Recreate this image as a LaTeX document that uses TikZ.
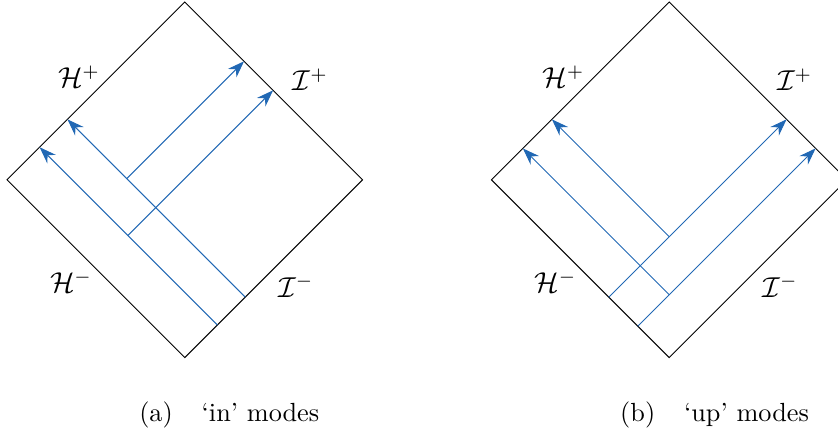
\documentclass[tikz,border=0pt]{standalone}
\usepackage{amsmath,amssymb}
\usetikzlibrary{arrows.meta}
\definecolor{Azul}{HTML}{2168B4}

\begin{document}
\begin{tikzpicture}[x=1.2287cm,y=1.2287cm,font=\large,>=Stealth,
    modo/.style={Azul,-{Stealth[length=7pt,width=5pt]}},
    leyenda/.style={font=\fontsize{10.95}{13.6}\selectfont,anchor=base west}]
  \clip (0,0) rectangle (10,5.125);
  % (a) modos in
  \begin{scope}[shift={(2.205,0.858)}]
    \begin{scope}[rotate=45]
      \draw (0,0) rectangle (3,3);
      \coordinate (a1s) at (0.55,0);   \coordinate (a1e) at (0.55,3);
      \coordinate (a2s) at (1.02,0);   \coordinate (a2e) at (1.02,3);
      \coordinate (a3s) at (0.55,1.51);\coordinate (a3e) at (3,1.51);
      \coordinate (a4s) at (1.02,2);   \coordinate (a4e) at (3,2);
      \draw[modo] (a1s) -- (a1e);
      \draw[modo] (a2s) -- (a2e);
      \draw[modo] (a3s) -- (a3e);
      \draw[modo] (a4s) -- (a4e);
    \end{scope}
    \node (aHp) at (-1.263,3.349) {$\mathcal{H}^+$};
    \node (aIp) at (1.496,3.319)  {$\mathcal{I}^+$};
    \node (aHm) at (-1.359,0.906) {$\mathcal{H}^-$};
    \node (aIm) at (1.323,0.852)  {$\mathcal{I}^-$};
  \end{scope}
  % (b) modos up
  \begin{scope}[shift={(7.986,0.858)}]
    \begin{scope}[rotate=45]
      \draw (0,0) rectangle (3,3);
      \coordinate (b1s) at (0,1.02);    \coordinate (b1e) at (3,1.02);
      \coordinate (b2s) at (0,0.53);    \coordinate (b2e) at (3,0.53);
      \coordinate (b3s) at (1.02,1.02); \coordinate (b3e) at (1.02,3);
      \coordinate (b4s) at (0.53,0.53); \coordinate (b4e) at (0.53,3);
      \draw[modo] (b1s) -- (b1e);
      \draw[modo] (b2s) -- (b2e);
      \draw[modo] (b3s) -- (b3e);
      \draw[modo] (b4s) -- (b4e);
    \end{scope}
    \node (bHp) at (-1.263,3.349) {$\mathcal{H}^+$};
    \node (bIp) at (1.496,3.319)  {$\mathcal{I}^+$};
    \node (bHm) at (-1.359,0.906) {$\mathcal{H}^-$};
    \node (bIm) at (1.323,0.852)  {$\mathcal{I}^-$};
  \end{scope}
  \node[leyenda] (capA) at (1.561,0.10) {(a)\hspace{1.1em}`in' modes};
  \node[leyenda] (capB) at (7.30,0.10)  {(b)\hspace{1.1em}`up' modes};
\end{tikzpicture}
\end{document}
